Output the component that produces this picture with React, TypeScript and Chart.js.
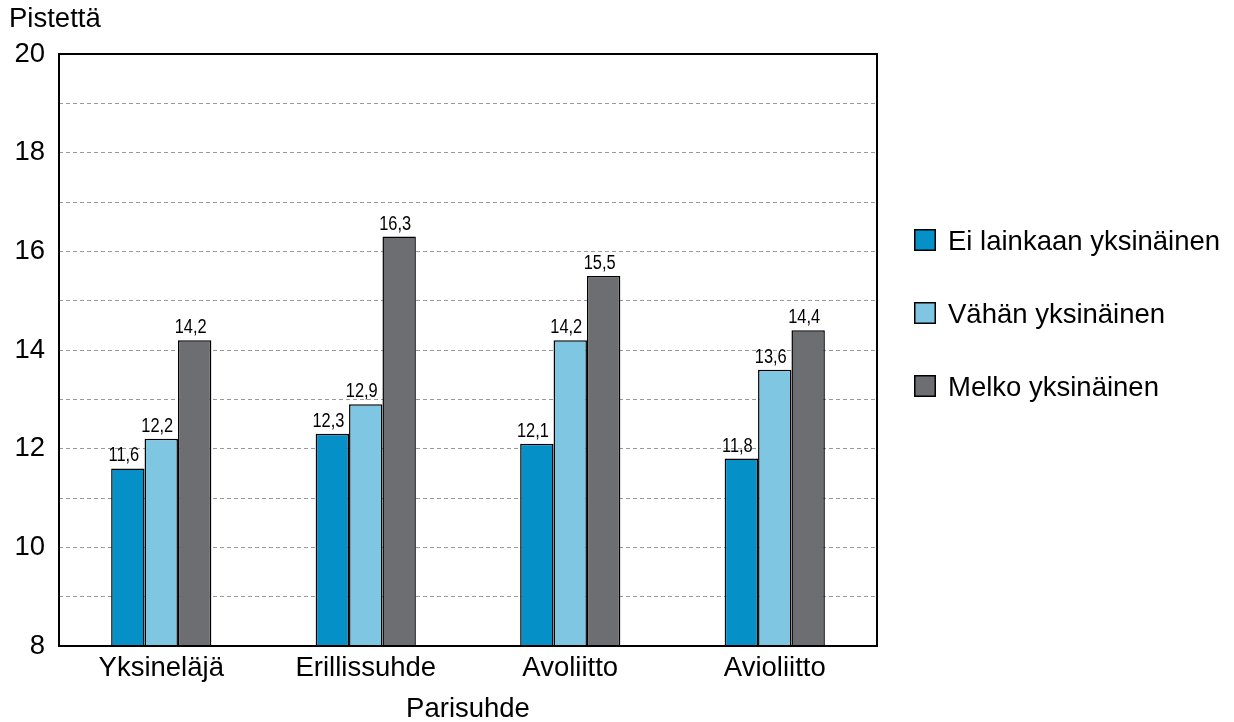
import React, { useEffect, useRef } from "react";
import { Chart, registerables } from "chart.js";

Chart.register(...registerables);

const categories = ["Yksineläjä", "Erillissuhde", "Avoliitto", "Avioliitto"];
const seriesNames = ["Ei lainkaan yksinäinen", "Vähän yksinäinen", "Melko yksinäinen"];
const eiLainkaan = [11.6, 12.3, 12.1, 11.8];
const vahan = [12.2, 12.9, 14.2, 13.6];
const melko = [14.2, 16.3, 15.5, 14.4];
const seriesColors = ["#0590C8", "#7FC6E3", "#6D6E71"];
const yMin = 8;
const yMax = 20;
const yTitle = "Pistettä";
const xTitle = "Parisuhde";

const FONT = '"Liberation Sans", Arial, Helvetica, sans-serif';
const FSIZE = 27.5;

const decorPlugin = {
  id: "decor",
  afterDatasetsDraw(chart: any) {
    const ctx = chart.ctx;
    const area = chart.chartArea;
    ctx.save();
    // frame
    ctx.strokeStyle = "#000";
    ctx.lineWidth = 2;
    ctx.setLineDash([]);
    ctx.strokeRect(area.left, area.top, area.right - area.left, area.bottom - area.top);

    // data labels (condensed)
    ctx.fillStyle = "#000";
    ctx.font = "20px " + FONT;
    ctx.textAlign = "center";
    ctx.textBaseline = "alphabetic";
    chart.data.datasets.forEach((ds: any, di: number) => {
      const meta = chart.getDatasetMeta(di);
      meta.data.forEach((el: any, i: number) => {
        const v = ds.data[i];
        ctx.save();
        ctx.translate(el.x - 4, el.y - 7);
        ctx.scale(0.82, 1);
        ctx.fillText(v.toFixed(1).replace(".", ","), 0, 0);
        ctx.restore();
      });
    });

    // y title
    ctx.font = FSIZE + "px " + FONT;
    ctx.textAlign = "left";
    ctx.textBaseline = "middle";
    ctx.fillText(yTitle, 9, 19);

    // x title
    ctx.textAlign = "center";
    ctx.fillText(xTitle, (area.left + area.right) / 2, 709);

    // legend
    const lx = 914;
    const ly0 = 240;
    const step = 73;
    seriesNames.forEach((name, i) => {
      const cy = ly0 + i * step;
      ctx.fillStyle = seriesColors[i];
      ctx.fillRect(lx, cy - 11, 22, 22);
      ctx.strokeStyle = "#000";
      ctx.lineWidth = 1.5;
      ctx.strokeRect(lx + 0.75, cy - 10.25, 20.5, 20.5);
      ctx.fillStyle = "#000";
      ctx.textAlign = "left";
      ctx.textBaseline = "middle";
      ctx.fillText(name, lx + 34, cy + 2);
    });
    ctx.restore();
  },
};

export default function App() {
  const ref = useRef<HTMLCanvasElement | null>(null);
  useEffect(() => {
    if (!ref.current) return;
    const datasets = [eiLainkaan, vahan, melko].map((d, i) => ({
      label: seriesNames[i],
      data: d,
      backgroundColor: seriesColors[i],
      borderColor: "#000",
      borderWidth: 1.5,
      borderSkipped: false,
      categoryPercentage: 0.49,
      barPercentage: 1.0,
    }));
    const chart = new Chart(ref.current, {
      type: "bar",
      data: { labels: categories, datasets },
      options: {
        animation: false,
        responsive: false,
        layout: { padding: { top: 54, right: 357, left: 0, bottom: 0 } },
        plugins: {
          legend: { display: false },
          tooltip: { enabled: false },
          title: { display: false },
        },
        scales: {
          x: {
            grid: { display: false, drawTicks: false },
            border: { display: false },
            ticks: { color: "#000", font: { family: FONT, size: FSIZE }, padding: 6, maxRotation: 0 },
            afterFit: (s: any) => {
              s.height = 76;
            },
          },
          y: {
            min: yMin,
            max: yMax,
            grid: { color: "#9a9a9a", lineWidth: 1, drawTicks: false },
            border: { display: false, dash: [4, 3] },
            ticks: {
              stepSize: 1,
              color: "#000",
              font: { family: FONT, size: FSIZE },
              padding: 14,
              callback: (v: any) => (Number(v) % 2 === 0 ? String(v) : ""),
            },
            afterFit: (s: any) => {
              s.width = 59;
            },
          },
        },
      },
      plugins: [decorPlugin],
    });
    return () => chart.destroy();
  }, []);
  return (
    <div style={{ position: "absolute", left: 0, top: 0, width: 1234, height: 722, background: "#fff" }}>
      <canvas ref={ref} width={1234} height={722} style={{ width: 1234, height: 722 }} />
    </div>
  );
}
